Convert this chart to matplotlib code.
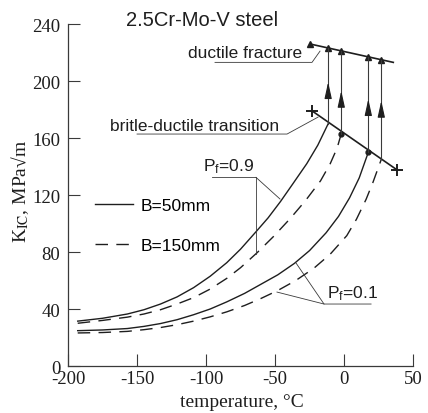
import matplotlib.pyplot as plt
from matplotlib.lines import Line2D

plt.rcParams['font.family'] = ['Liberation Sans', 'DejaVu Sans']
plt.rcParams['mathtext.fontset'] = 'custom'
plt.rcParams['mathtext.rm'] = 'Liberation Sans'
plt.rcParams['mathtext.it'] = 'Liberation Sans:italic'
plt.rcParams['axes.unicode_minus'] = False

INK = '#1e1e1e'
THIN = '#3a3a3a'

# K_IC curves (temperature in C, K_IC in MPa*sqrt(m))
t_p90_b50 = [-193, -175, -157, -145, -133, -121, -109, -97, -85, -75, -64, -55, -46, -37,
             -27, -19, -11.5]
k_p90_b50 = [31.5, 33.5, 36.5, 39.5, 43.5, 48.5, 55.0, 63.0, 72.5, 82.0, 94.0, 104.0, 115.5,
             128.0, 142.0, 155.0, 170.0]

t_p90_b150 = [-193, -175, -157, -145, -133, -121, -109, -97, -85, -75, -63, -51, -39, -28,
              -17, -10, -5, -2]
k_p90_b150 = [30.0, 32.0, 34.3, 36.5, 39.5, 43.5, 48.0, 54.0, 61.5, 69.0, 79.5, 91.0, 103.5,
              116.0, 130.0, 142.0, 153.0, 163.0]

t_p10_b50 = [-193, -175, -157, -145, -133, -121, -109, -97, -85, -72, -60, -48, -36, -25,
             -13, -4, 4, 11, 17.6]
k_p10_b50 = [24.8, 25.3, 26.3, 27.8, 29.8, 32.5, 36.0, 40.0, 45.0, 51.0, 57.5, 64.0, 72.0,
             81.0, 93.5, 105.0, 118.0, 132.0, 150.0]

t_p10_b150 = [-193, -175, -157, -145, -133, -121, -109, -97, -85, -72, -60, -48, -35, -22,
              -10, 2, 9, 16, 21, 27]
k_p10_b150 = [23.2, 23.5, 24.3, 25.5, 27.0, 29.0, 31.5, 34.5, 38.0, 42.5, 47.5, 53.0, 60.0,
              68.5, 78.5, 91.5, 103.0, 117.0, 129.0, 145.0]

# brittle-ductile transition line and ductile fracture line
t_trans = [-23.4, 38.2]
k_trans = [179.2, 137.8]
t_trans_pts = [-2, 17.6]
k_trans_pts = [163.0, 150.0]

t_duct = [-24.6, 35.7]
k_duct = [226.0, 213.1]
t_duct_pts = [-24.6, -11.5, -2, 17.6, 27]
k_duct_pts = [226.0, 223.2, 221.1, 217.0, 215.0]

# transition points that jump up to ductile fracture, with arrow heads
t_jump = [-11.5, -2, 17.6, 27]
k_jump_from = [170.0, 163.0, 150.0, 145.0]
k_jump_to = [223.2, 221.1, 217.0, 215.0]
k_arrow_base = [188.8, 183.9, 176.9, 175.7]
k_arrow_tip = [199.3, 193.2, 187.4, 186.2]

x_ticks = [-200, -150, -100, -50, 0, 50]
y_ticks = [0, 40, 80, 120, 160, 200, 240]

fig = plt.figure(figsize=(4.28, 4.14), dpi=100)
ax = fig.add_axes([0.159, 0.1135, 0.806, 0.826])

dash = (9, 6)
ax.plot(t_p90_b50, k_p90_b50, color=INK, lw=1.0)
ax.plot(t_p10_b50, k_p10_b50, color=INK, lw=1.0)
ax.plot(t_p90_b150, k_p90_b150, color=INK, lw=1.0, dashes=dash)
ax.plot(t_p10_b150, k_p10_b150, color=INK, lw=1.0, dashes=dash)

ax.plot(t_trans, k_trans, color=INK, lw=1.2)
ax.plot(t_trans, k_trans, ls='none', marker='+', ms=8, mew=1.4, color=INK)
ax.plot(t_trans_pts, k_trans_pts, ls='none', marker='o', ms=3.5, color=INK)

ax.plot(t_duct, k_duct, color=INK, lw=1.2)
ax.plot(t_duct_pts, k_duct_pts, ls='none', marker='^', ms=5, color=INK)

for t, k0, k1, kb, kt in zip(t_jump, k_jump_from, k_jump_to, k_arrow_base, k_arrow_tip):
    ax.plot([t, t], [k0, k1], color=THIN, lw=0.8)
    ax.annotate('', xy=(t, kt), xytext=(t, kb),
                arrowprops=dict(arrowstyle='-|>,head_length=1.0,head_width=0.22',
                                mutation_scale=10, color=INK, lw=0.8,
                                shrinkA=0, shrinkB=0))

# labels with leader lines
ax.text(-102.9, 243.5, '2.5Cr-Mo-V steel', fontsize=14.5, ha='center', va='center',
        color=INK, clip_on=False)

ax.text(-71.7, 219.8, 'ductile fracture', fontsize=12.5, ha='center', va='center', color=INK)
ax.plot([-93.5, -23.2, -17.4], [213.1, 213.1, 221.0], color=THIN, lw=0.6)

ax.text(-108, 168.8, 'britle-ductile transition', fontsize=12.5, ha='center', va='center',
        color=INK)
ax.plot([-150, -41.3, -18.8], [162.8, 162.8, 174.7], color=THIN, lw=0.6)

ax.text(-102.2, 140.4, r'P$_\mathrm{f}$=0.9', fontsize=12.5, ha='left', va='center', color=INK)
ax.plot([-95.7, -63.8, -63.8], [132.4, 132.4, 78.6], color=THIN, lw=0.6)
ax.plot([-63.8, -46.4], [132.4, 117.2], color=THIN, lw=0.6)

ax.text(-12.3, 51.2, r'P$_\mathrm{f}$=0.1', fontsize=12.5, ha='left', va='center', color=INK)
ax.plot([19.6, -14.5, -34.8], [43.5, 43.5, 72.3], color=THIN, lw=0.6)
ax.plot([-14.5, -48.6], [43.5, 51.9], color=THIN, lw=0.6)

handles = [Line2D([], [], color=INK, lw=1.0),
           Line2D([], [], color=INK, lw=1.0, dashes=dash)]
ax.legend(handles, ['B=50mm', 'B=150mm'], loc='upper left', bbox_to_anchor=(0.078, 0.491),
          frameon=False, fontsize=12.5, handlelength=2.2, handletextpad=0.45,
          labelspacing=1.4, borderpad=0, borderaxespad=0)

ax.set_xlim(-200, 50)
ax.set_ylim(0, 240)
ax.set_xticks(x_ticks)
ax.set_yticks(y_ticks)
for s in ['top', 'right']:
    ax.spines[s].set_visible(False)
for s in ['left', 'bottom']:
    ax.spines[s].set_color(THIN)
    ax.spines[s].set_linewidth(0.9)
ax.tick_params(direction='in', length=8.5, width=0.8, color=THIN, labelcolor=INK)
ax.tick_params(axis='x', pad=3)
ax.tick_params(axis='y', pad=5.5)
for lab in ax.get_xticklabels() + ax.get_yticklabels():
    lab.set_family(['Liberation Serif', 'DejaVu Serif'])
    lab.set_fontsize(13.5)

ax.set_xlabel('temperature, °C', family=['Liberation Serif', 'DejaVu Serif'], fontsize=14,
              color=INK)
ax.xaxis.set_label_coords(0.504, -0.078)
ax.set_ylabel(r'K$_\mathrm{IC}$, MPa√m', family=['Liberation Serif', 'DejaVu Serif'],
              fontsize=14, color=INK, math_fontfamily='stix')
ax.yaxis.set_label_coords(-0.108, 0.512)

fig.savefig('out.png', dpi=100)
